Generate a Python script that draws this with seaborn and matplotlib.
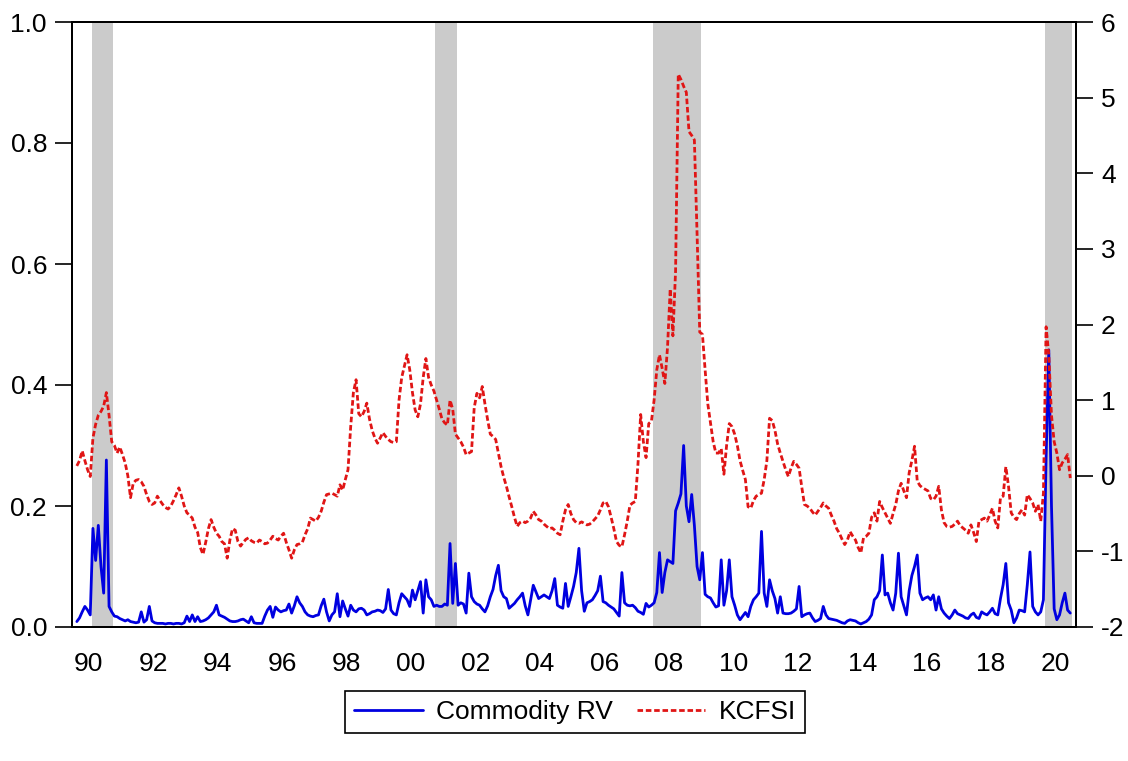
import numpy as np
import pandas as pd
import matplotlib
matplotlib.use("Agg")
import matplotlib.pyplot as plt
import seaborn as sns
from matplotlib.lines import Line2D
from matplotlib.ticker import FixedLocator, FixedFormatter, NullFormatter

sns.set_style("white")
plt.rcParams["font.family"] = ["Liberation Sans", "DejaVu Sans"]
plt.rcParams["text.color"] = "black"
plt.rcParams["xtick.color"] = "black"
plt.rcParams["ytick.color"] = "black"

# ---------------- data (monthly, Feb 1990 - Dec 2020) ----------------
first_month = "1990-02"

# Commodity realized volatility (left axis)
commodity_rv = [
    0.009, 0.015, 0.025, 0.034, 0.028, 0.020, 0.163, 0.110, 0.168, 0.100, 0.056,            # 1990 (Feb-Dec)
    0.276, 0.034, 0.025, 0.018, 0.017, 0.014, 0.012, 0.010, 0.012, 0.009, 0.008, 0.007,     # 1991
    0.008, 0.025, 0.008, 0.012, 0.034, 0.010, 0.007, 0.006, 0.006, 0.006, 0.005, 0.006,     # 1992
    0.006, 0.005, 0.006, 0.006, 0.005, 0.007, 0.018, 0.009, 0.020, 0.009, 0.017, 0.009,     # 1993
    0.010, 0.012, 0.015, 0.020, 0.025, 0.036, 0.020, 0.018, 0.016, 0.013, 0.010, 0.009,     # 1994
    0.009, 0.010, 0.012, 0.013, 0.010, 0.007, 0.017, 0.007, 0.006, 0.006, 0.006, 0.018,     # 1995
    0.028, 0.034, 0.016, 0.033, 0.028, 0.025, 0.027, 0.028, 0.038, 0.023, 0.035, 0.050,     # 1996
    0.040, 0.034, 0.025, 0.020, 0.018, 0.017, 0.019, 0.020, 0.035, 0.046, 0.025, 0.010,     # 1997
    0.020, 0.025, 0.055, 0.017, 0.043, 0.030, 0.018, 0.036, 0.028, 0.025, 0.030, 0.031,     # 1998
    0.028, 0.020, 0.022, 0.025, 0.026, 0.028, 0.027, 0.024, 0.030, 0.062, 0.028, 0.022,     # 1999
    0.020, 0.040, 0.055, 0.050, 0.045, 0.034, 0.061, 0.045, 0.060, 0.075, 0.023, 0.078,     # 2000
    0.050, 0.045, 0.034, 0.036, 0.034, 0.034, 0.038, 0.036, 0.138, 0.039, 0.105, 0.036,     # 2001
    0.040, 0.038, 0.023, 0.089, 0.050, 0.042, 0.038, 0.036, 0.030, 0.025, 0.035, 0.050,     # 2002
    0.062, 0.085, 0.102, 0.060, 0.050, 0.047, 0.031, 0.035, 0.039, 0.045, 0.050, 0.056,     # 2003
    0.035, 0.020, 0.045, 0.069, 0.058, 0.047, 0.050, 0.053, 0.050, 0.047, 0.060, 0.080,     # 2004
    0.036, 0.033, 0.031, 0.072, 0.034, 0.050, 0.067, 0.090, 0.130, 0.060, 0.026, 0.040,     # 2005
    0.042, 0.045, 0.052, 0.060, 0.084, 0.042, 0.040, 0.036, 0.033, 0.030, 0.024, 0.018,     # 2006
    0.090, 0.040, 0.036, 0.035, 0.036, 0.032, 0.026, 0.024, 0.021, 0.039, 0.033, 0.036,     # 2007
    0.040, 0.057, 0.123, 0.057, 0.090, 0.111, 0.108, 0.105, 0.192, 0.205, 0.220, 0.300,     # 2008
    0.200, 0.174, 0.219, 0.168, 0.100, 0.078, 0.123, 0.054, 0.050, 0.048, 0.040, 0.033,     # 2009
    0.035, 0.111, 0.036, 0.060, 0.111, 0.050, 0.036, 0.020, 0.012, 0.018, 0.024, 0.017,     # 2010
    0.034, 0.045, 0.050, 0.056, 0.158, 0.056, 0.034, 0.078, 0.060, 0.047, 0.023, 0.050,     # 2011
    0.023, 0.022, 0.022, 0.023, 0.026, 0.030, 0.067, 0.017, 0.020, 0.022, 0.023, 0.015,     # 2012
    0.009, 0.011, 0.014, 0.034, 0.020, 0.014, 0.013, 0.012, 0.011, 0.009, 0.007, 0.006,     # 2013
    0.010, 0.012, 0.011, 0.010, 0.007, 0.005, 0.007, 0.009, 0.013, 0.020, 0.045, 0.050,     # 2014
    0.060, 0.119, 0.053, 0.056, 0.040, 0.028, 0.056, 0.122, 0.050, 0.035, 0.020, 0.060,     # 2015
    0.085, 0.100, 0.119, 0.056, 0.045, 0.048, 0.050, 0.045, 0.053, 0.028, 0.050, 0.030,     # 2016
    0.023, 0.018, 0.014, 0.020, 0.028, 0.022, 0.020, 0.018, 0.015, 0.014, 0.020, 0.023,     # 2017
    0.016, 0.014, 0.025, 0.022, 0.020, 0.025, 0.031, 0.022, 0.020, 0.047, 0.070, 0.105,     # 2018
    0.040, 0.028, 0.007, 0.015, 0.028, 0.027, 0.025, 0.070, 0.124, 0.034, 0.025, 0.020,     # 2019
    0.025, 0.045, 0.280, 0.458, 0.200, 0.030, 0.012, 0.020, 0.040, 0.056, 0.028, 0.023,     # 2020
]

# Kansas City Financial Stress Index (right axis)
kcfsi = [
    0.13, 0.20, 0.33, 0.20, 0.08, -0.01, 0.50, 0.68, 0.80, 0.85, 0.92,                     # 1990 (Feb-Dec)
    1.10, 0.80, 0.45, 0.40, 0.30, 0.38, 0.28, 0.17, 0.00, -0.29, -0.10, -0.06,              # 1991
    -0.05, -0.08, -0.14, -0.25, -0.34, -0.38, -0.36, -0.27, -0.33, -0.38, -0.42, -0.44,     # 1992
    -0.40, -0.33, -0.25, -0.16, -0.27, -0.40, -0.49, -0.52, -0.56, -0.68, -0.75, -0.95,     # 1993
    -1.04, -0.88, -0.70, -0.58, -0.68, -0.76, -0.80, -0.87, -0.90, -1.09, -0.85, -0.70,     # 1994
    -0.72, -0.87, -0.93, -0.88, -0.84, -0.82, -0.86, -0.88, -0.89, -0.85, -0.87, -0.90,     # 1995
    -0.89, -0.85, -0.80, -0.83, -0.85, -0.80, -0.76, -0.88, -0.98, -1.09, -0.98, -0.91,     # 1996
    -0.90, -0.88, -0.78, -0.70, -0.56, -0.58, -0.60, -0.55, -0.47, -0.35, -0.25, -0.24,     # 1997
    -0.23, -0.25, -0.27, -0.12, -0.19, -0.05, 0.08, 0.65, 1.10, 1.27, 0.82, 0.78,           # 1998
    0.85, 0.96, 0.75, 0.60, 0.50, 0.43, 0.50, 0.57, 0.52, 0.48, 0.45, 0.44,                 # 1999
    0.45, 1.00, 1.30, 1.45, 1.60, 1.40, 1.10, 0.87, 0.78, 0.95, 1.30, 1.55,                 # 2000
    1.30, 1.20, 1.12, 1.00, 0.88, 0.75, 0.70, 0.67, 1.00, 0.88, 0.55, 0.50,                 # 2001
    0.45, 0.38, 0.28, 0.30, 0.32, 0.90, 1.09, 1.03, 1.18, 0.95, 0.74, 0.55,                 # 2002
    0.52, 0.48, 0.30, 0.12, -0.02, -0.14, -0.28, -0.41, -0.55, -0.67, -0.62, -0.60,         # 2003
    -0.62, -0.60, -0.56, -0.47, -0.52, -0.58, -0.60, -0.64, -0.67, -0.70, -0.69, -0.72,     # 2004
    -0.76, -0.78, -0.60, -0.45, -0.38, -0.50, -0.58, -0.62, -0.63, -0.61, -0.63, -0.65,     # 2005
    -0.64, -0.61, -0.57, -0.53, -0.45, -0.36, -0.34, -0.41, -0.55, -0.70, -0.87, -0.92,     # 2006
    -0.94, -0.78, -0.60, -0.39, -0.36, -0.34, 0.16, 0.81, 0.45, 0.24, 0.69, 0.72,           # 2007
    1.00, 1.40, 1.60, 1.42, 1.22, 1.70, 2.47, 1.85, 2.71, 5.31, 5.24, 5.15,                 # 2008
    5.07, 4.55, 4.50, 4.44, 3.20, 1.90, 1.87, 1.40, 0.95, 0.70, 0.45, 0.30,                 # 2009
    0.30, 0.36, 0.02, 0.40, 0.69, 0.65, 0.55, 0.40, 0.20, 0.07, -0.05, -0.41,               # 2010
    -0.43, -0.33, -0.27, -0.25, -0.23, -0.05, 0.20, 0.76, 0.73, 0.60, 0.42, 0.30,           # 2011
    0.19, 0.08, -0.01, 0.10, 0.19, 0.15, 0.10, -0.15, -0.38, -0.40, -0.43, -0.48,           # 2012
    -0.52, -0.47, -0.42, -0.36, -0.40, -0.43, -0.52, -0.60, -0.70, -0.76, -0.84, -0.91,     # 2013
    -0.85, -0.74, -0.80, -0.85, -0.95, -1.02, -0.82, -0.80, -0.76, -0.55, -0.49, -0.60,     # 2014
    -0.34, -0.42, -0.49, -0.56, -0.63, -0.50, -0.38, -0.20, -0.10, -0.20, -0.29, 0.04,      # 2015
    0.20, 0.39, -0.07, -0.13, -0.16, -0.18, -0.20, -0.30, -0.32, -0.27, -0.14, -0.45,       # 2016
    -0.62, -0.67, -0.68, -0.67, -0.64, -0.60, -0.66, -0.69, -0.72, -0.76, -0.65, -0.75,     # 2017
    -0.87, -0.60, -0.58, -0.56, -0.60, -0.52, -0.43, -0.60, -0.69, -0.29, -0.27, 0.12,      # 2018
    -0.14, -0.49, -0.55, -0.58, -0.50, -0.45, -0.52, -0.25, -0.30, -0.36, -0.47, -0.38,     # 2019
    -0.60, -0.23, 1.97, 1.60, 0.80, 0.45, 0.30, 0.08, 0.17, 0.22, 0.28, -0.03,              # 2020
]

# NBER recessions (first and last month shaded)
recession_start = ["1990-08", "2001-04", "2008-01", "2020-03"]
recession_end = ["1991-03", "2001-11", "2009-06", "2020-12"]

year_labels = ["90", "92", "94", "96", "98", "00", "02", "04", "06", "08",
               "10", "12", "14", "16", "18", "20"]
left_ticks = [0.0, 0.2, 0.4, 0.6, 0.8, 1.0]
right_ticks = [-2, -1, 0, 1, 2, 3, 4, 5, 6]

# ---------------- build frame ----------------
months = pd.period_range(first_month, periods=len(kcfsi), freq="M")
t = months.year + (months.month - 0.5) / 12.0
df = pd.DataFrame({"t": t, "Commodity RV": commodity_rv, "KCFSI": kcfsi})

def dec(s, end=False):
    p = pd.Period(s, freq="M")
    return p.year + (p.month - (0 if end else 1)) / 12.0

# ---------------- figure ----------------
W, H = 1128, 761
fig = plt.figure(figsize=(W / 100, H / 100), dpi=100)
L, R, T, B = 72, 1076, 22, 627
ax = fig.add_axes([L / W, 1 - B / H, (R - L) / W, (B - T) / H])

for s, e in zip(recession_start, recession_end):
    ax.axvspan(dec(s), dec(e, end=True), color="#cbcbcb", lw=0, zorder=0)

blue = "#0000e0"
red = "#e01515"
lw_b, lw_r = 2.0, 2.0
dash = (2.0, 1.0)
sns.lineplot(data=df, x="t", y="Commodity RV", ax=ax, color=blue, lw=lw_b,
             zorder=3, legend=False)
ax2 = ax.twinx()
sns.lineplot(data=df, x="t", y="KCFSI", ax=ax2, color=red, lw=lw_r,
             zorder=3, legend=False)
ax2.lines[0].set_dashes(dash)

x0 = 1990 + (L - 72.8) / 32.22
x1 = 1990 + (R - 72.8) / 32.22
ax.set_xlim(x0, x1)
ax.set_ylim(0, 1.0)
ax2.set_ylim(-2, 6)

fs = 19
ax.yaxis.set_major_locator(FixedLocator(left_ticks))
ax.yaxis.set_major_formatter(FixedFormatter([f"{v:.1f}" for v in left_ticks]))
ax2.yaxis.set_major_locator(FixedLocator(right_ticks))
ax2.yaxis.set_major_formatter(FixedFormatter([str(v) for v in right_ticks]))

ax.xaxis.set_major_locator(FixedLocator(list(range(1990, 2022))))
ax.xaxis.set_major_formatter(NullFormatter())
lab_pos = [1990 + 2 * k + 0.5 for k in range(len(year_labels))]
ax.xaxis.set_minor_locator(FixedLocator(lab_pos))
ax.xaxis.set_minor_formatter(FixedFormatter(year_labels))

ax.tick_params(axis="both", which="major", direction="out", length=12, width=1.2,
               color="black", labelcolor="black", labelsize=fs, pad=6)
ax.tick_params(axis="x", which="minor", length=0, labelsize=fs, pad=18,
               labelcolor="black")
ax.tick_params(axis="y", which="both", left=True, right=False)
ax2.tick_params(axis="y", direction="out", length=12, width=1.2, color="black",
                labelcolor="black", labelsize=fs, pad=6)
ax.set_xlabel("")
ax.set_ylabel("")
ax2.set_ylabel("")

for a in (ax, ax2):
    for sp in a.spines.values():
        sp.set_visible(True)
        sp.set_color("black")
        sp.set_linewidth(1.4)

handles = [Line2D([], [], color=blue, lw=lw_b),
           Line2D([], [], color=red, lw=lw_r, dashes=dash)]
leg = fig.legend(handles, ["Commodity RV", "KCFSI"], loc="center",
                 bbox_to_anchor=(575 / W, 1 - 712 / H), ncol=2, fontsize=fs,
                 frameon=True, fancybox=False, edgecolor="black", framealpha=1,
                 handlelength=2.6, handletextpad=0.5, columnspacing=0.9,
                 borderpad=0.35)
leg.get_frame().set_linewidth(1.2)
for txt in leg.get_texts():
    txt.set_color("black")

fig.savefig("out.png", dpi=100)
